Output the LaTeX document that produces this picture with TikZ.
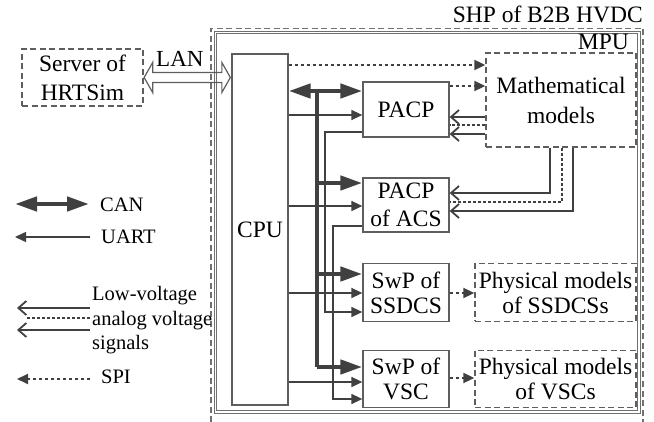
\documentclass[tikz,border=0pt]{standalone}
\usepackage{fontspec}
\setmainfont{Liberation Serif}
\usetikzlibrary{arrows.meta,calc}
\definecolor{ln}{HTML}{404040}
\definecolor{bx}{HTML}{5E5E5E}
\definecolor{fr}{HTML}{707070}
\tikzset{
  box/.style={draw=bx,line width=1.3pt,inner sep=0pt,align=center,font=\fontsize{23.5}{25}\selectfont},
  dbox/.style={box,dash pattern=on 6pt off 3.5pt},
  uart/.style={draw=ln,line width=1.5pt,-{Triangle[length=11pt,width=10pt]}},
  spi/.style={draw=ln,line width=1.8pt,dash pattern=on 3.5pt off 2.5pt,-{Triangle[length=11pt,width=10pt]}},
  can/.style={draw=ln,line width=4.5pt,{Triangle[length=22pt,width=14pt]}-{Triangle[length=22pt,width=14pt]}},
  canone/.style={draw=ln,line width=4.5pt,-{Triangle[length=22pt,width=14pt]}},
  bus/.style={draw=ln,line width=4.5pt},
  ana/.style={draw=ln,line width=1.8pt,-{Straight Barb[length=8pt,width=14pt]}},
  anadot/.style={draw=ln,line width=1.6pt,dash pattern=on 3pt off 2pt},
  lbl/.style={inner sep=0pt,font=\fontsize{23.5}{25}\selectfont},
  leg/.style={inner sep=0pt,font=\fontsize{20.5}{24}\selectfont,align=left},
}
\begin{document}
\begin{tikzpicture}[x=1pt,y=-1pt]
\useasboundingbox (0,0) rectangle (654,422);
% frames
\draw[fr,line width=1.1pt,dash pattern=on 6pt off 3.5pt] (211,422) -- (211,28.5) -- (643,28.5) -- (643,422);
\draw[fr,line width=1pt] (214,31.5) rectangle (640,413);
\draw[fr,line width=1pt] (216.5,34) rectangle (637.5,410.5);
\node[lbl,anchor=base east] (shp) at (643,23) {SHP of B2B HVDC};
\node[lbl,anchor=base east] (mpu) at (629,50) {MPU};
% nodes
\node[dbox,minimum width=121pt,minimum height=57pt,font=\fontsize{23.5}{29}\selectfont] (server) at (82.5,77.5) {Server of\\HRTSim};
\node[box,minimum width=56pt,minimum height=351pt] (cpu) at (260,229.5) {CPU};
\node[box,minimum width=86pt,minimum height=55pt] (pacp) at (406,109.5) {PACP};
\node[box,minimum width=86pt,minimum height=54pt,font=\fontsize{23.5}{28}\selectfont] (acs) at (406,205) {PACP\\of ACS};
\node[box,minimum width=86pt,minimum height=58pt] (ssdcs) at (406,292.5) {SwP of\\SSDCS};
\node[box,minimum width=86pt,minimum height=57pt] (vsc) at (406,379) {SwP of\\VSC};
\node[dbox,minimum width=150pt,minimum height=94pt,font=\fontsize{23.5}{30}\selectfont] (math) at (561,100) {Mathematical\\models};
\node[dbox,minimum width=161pt,minimum height=58pt] (pms) at (555.5,292.5) {Physical models\\of SSDCSs};
\node[dbox,minimum width=161pt,minimum height=57pt] (pmv) at (555.5,379) {Physical models\\of VSCs};
% LAN
\draw[bx,line width=1.2pt] ($(server.east)+(0.5,0)$) -- ++(8.5,-15) -- ++(0,10) -- ($(cpu.west |- server.east)+(-9.5,-5)$) -- ++(0,-10) -- ($(cpu.west |- server.east)+(-1,0)$) -- ++(-8.5,15) -- ++(0,-10) -- ($(server.east)+(9,5)$) -- ++(0,10) -- cycle;
\node[lbl,anchor=base west,font=\fontsize{23}{25}\selectfont] (lan) at (156,67) {LAN};
% SPI
\draw[spi] (cpu.east |- 0,65) -- (math.west |- 0,65);
\draw[spi] (pacp.east |- 0,86) -- (math.west |- 0,86);
\draw[spi] (ssdcs.east |- 0,293) -- (pms.west |- 0,293);
\draw[spi] (vsc.east |- 0,378) -- (pmv.west |- 0,378);
% UART
\draw[uart] (cpu.east |- 0,115) -- (pacp.west |- 0,115);
\draw[uart] (cpu.east |- 0,206) -- (acs.west |- 0,206);
\draw[uart] (cpu.east |- 0,293) -- (ssdcs.west |- 0,293);
\draw[uart] (cpu.east |- 0,382) -- (vsc.west |- 0,382);
\coordinate (l1) at (325,312);
\coordinate (l2) at (333,399);
\draw[uart] (pacp.west |- 0,132) -| (l1) -- (ssdcs.west |- l1);
\draw[uart] (acs.west |- 0,226) -| (l2) -- (vsc.west |- l2);
% CAN
\coordinate (bt) at (317,91);
\coordinate (bb) at (317,367);
\draw[can] (cpu.east |- bt) -- (pacp.west |- bt);
\draw[bus] (bt) -- (bb);
\draw[canone] (bt |- 0,183) -- (acs.west |- 0,183);
\draw[canone] (bt |- 0,274) -- (ssdcs.west |- 0,274);
\draw[canone] (bb) -- (vsc.west |- bb);
% analog
\draw[ana] (math.west |- 0,117) -- (pacp.east |- 0,117);
\draw[anadot] (math.west |- 0,125) -- (pacp.east |- 0,125);
\draw[ana] (math.west |- 0,134) -- (pacp.east |- 0,134);
\draw[ana] (math.south -| 550,0) |- (acs.east |- 0,193);
\draw[anadot] (math.south -| 562,0) |- (acs.east |- 0,202);
\draw[ana] (math.south -| 573,0) |- (acs.east |- 0,211);
% legend
\coordinate (c1) at (15,204); \coordinate (c2) at (89,204);
\draw[can] (c1) -- (c2);
\node[leg,anchor=base west] (lcan) at (100,212) {CAN};
\coordinate (u1) at (90,237); \coordinate (u2) at (15,237);
\draw[uart] (u1) -- (u2);
\node[leg,anchor=base west] (luart) at (101,244) {UART};
\coordinate (a1) at (90,308); \coordinate (a2) at (17,308);
\coordinate (a3) at (90,318); \coordinate (a4) at (27,318);
\coordinate (a5) at (90,330); \coordinate (a6) at (17,330);
\draw[ana] (a1) -- (a2);
\draw[anadot] (a3) -- (a4);
\draw[ana] (a5) -- (a6);
\node[leg,anchor=base west] (lana) at (92,349) {Low-voltage\\analog voltage\\signals};
\coordinate (s1) at (90,379); \coordinate (s2) at (17,379);
\draw[spi] (s1) -- (s2);
\node[leg,anchor=base west] (lspi) at (101,384) {SPI};
\end{tikzpicture}
\end{document}
